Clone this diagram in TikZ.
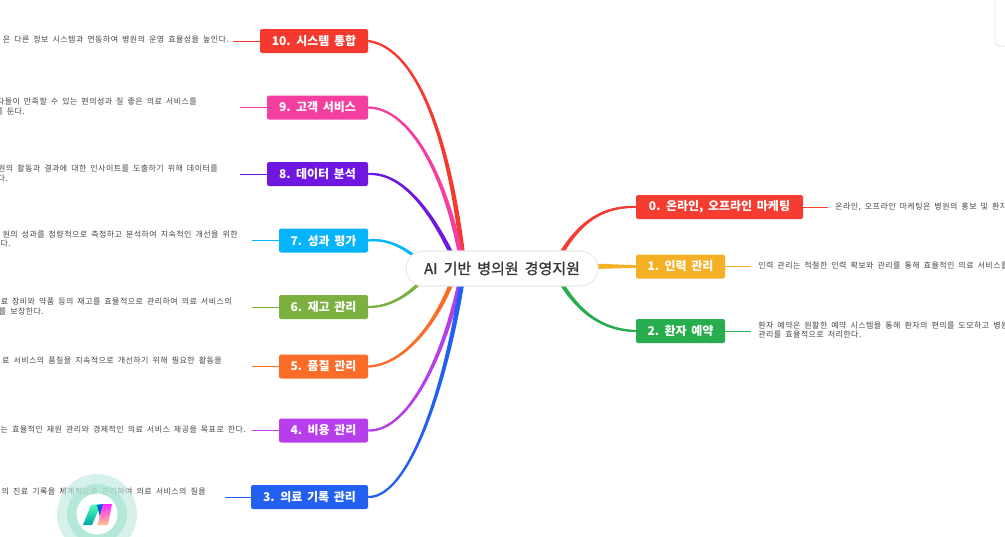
\documentclass[tikz,border=0pt]{standalone}
\usepackage{fontspec}
\setmainfont{Noto Sans CJK KR}
\newfontfamily\krleaf{Noto Sans CJK KR}[WordSpace=1.8,LetterSpace=5.5]
\newfontfamily\krbox{Noto Sans CJK KR}[WordSpace=1.7]
\newfontfamily\krroot{Noto Sans CJK KR}[WordSpace=1.8,FakeBold=1.2]
\usetikzlibrary{calc,backgrounds}
\definecolor{c0}{HTML}{F43D30}
\definecolor{c1}{HTML}{F6B026}
\definecolor{c2}{HTML}{27AC4E}
\definecolor{c3}{HTML}{2160F0}
\definecolor{c4}{HTML}{B63FEB}
\definecolor{c5}{HTML}{FB6C28}
\definecolor{c6}{HTML}{7CB040}
\definecolor{c7}{HTML}{06B4FB}
\definecolor{c8}{HTML}{6F17E0}
\definecolor{c9}{HTML}{F53FA0}
\definecolor{c10}{HTML}{F5392E}
\definecolor{ringa}{HTML}{BBE9DE}
\definecolor{ringb}{HTML}{A1E3CF}
\tikzset{
  x=0.75pt,y=-0.75pt,
  topicbox/.style={fill=#1,rounded corners=1.6pt,inner sep=0pt,minimum height=18pt,text=white,font=\krbox\fontsize{9}{10}\bfseries\selectfont},
  rootbox/.style={fill=white,draw=black!8,line width=0.9pt,rounded corners=13pt,inner sep=0pt,minimum width=144pt,minimum height=26.2pt,text=black!78,font=\krroot\fontsize{11.25}{13}\selectfont},
  leaftext/.style={inner sep=0pt,text=black!72,text height=5pt,text depth=1pt,font=\krleaf\fontsize{6}{7}\selectfont},
  leafline/.style={line width=0.75pt,draw=#1},
}
% curve from a topic node to a point behind the centre, widening towards the centre
% #1 colour, #2 start, #3 #4 controls, #5 end, #6 side for x, #7 side for y
\newcommand{\taperbranch}[7]{%
  \draw[#1,line width=1.4pt] (#2) .. controls (#3) and (#4) .. (#5);
  \fill[#1] ($(#2)+(0,#7*1)$) .. controls ($(#3)+(#6*0.7,#7*1.3)$) and ($(#4)+(#6*1.9,#7*0.6)$) .. ($(#5)+(#6*2.6,0)$)
    -- ($(#5)+(-#6*2.6,0)$) .. controls ($(#4)+(-#6*1.9,-#7*0.6)$) and ($(#3)+(-#6*0.7,-#7*1.3)$) .. ($(#2)+(0,-#7*1)$) -- cycle;
}
\begin{document}
\begin{tikzpicture}
\useasboundingbox (0,0) rectangle (1005,536);
\clip (0,0) rectangle (1005,536);

% central and topic nodes
\node[rootbox] (root) at (502,268.5) {AI 기반 병의원 경영지원};
\node[topicbox=c10,minimum width=81pt] (b10) at (314,41) {10. 시스템 통합};
\node[topicbox=c9,minimum width=75.75pt] (b9) at (317.5,107.5) {9. 고객 서비스};
\node[topicbox=c8,minimum width=75.75pt] (b8) at (317.5,174) {8. 데이터 분석};
\node[topicbox=c7,minimum width=66.75pt] (b7) at (323.5,240.5) {7. 성과 평가};
\node[topicbox=c6,minimum width=66.75pt] (b6) at (323.5,307) {6. 재고 관리};
\node[topicbox=c5,minimum width=66.75pt] (b5) at (323.5,366.5) {5. 품질 관리};
\node[topicbox=c4,minimum width=66.75pt] (b4) at (323.5,430.5) {4. 비용 관리};
\node[topicbox=c3,minimum width=87.75pt] (b3) at (309.5,497) {3. 의료 기록 관리};
\node[topicbox=c0,minimum width=125.25pt] (b0) at (719.5,207) {0. 온라인, 오프라인 마케팅};
\node[topicbox=c1,minimum width=66.75pt] (b1) at (680.5,266.5) {1. 인력 관리};
\node[topicbox=c2,minimum width=66.75pt] (b2) at (680.5,331) {2. 환자 예약};

% anchor points hidden behind the central node
\coordinate (e10) at (464,268);
\coordinate (e9) at (463,268);
\coordinate (e8) at (458,268);
\coordinate (e7) at (430,270);
\coordinate (e6) at (432,270);
\coordinate (e5) at (457,268);
\coordinate (e4) at (463,268);
\coordinate (e3) at (464,268);
\coordinate (e0) at (555,265);
\coordinate (e2) at (555,272);

\begin{scope}[on background layer]
\fill[white] (0,0) rectangle (1005,536);
\draw[draw=black!7,fill=white,rounded corners=3pt,line width=0.75pt] (995,-12) rectangle (1020,46);
\taperbranch{c10}{b10.east}{420,48}{452,150}{e10}{1}{-1}
\taperbranch{c9}{b9.east}{410,108}{447,175}{e9}{1}{-1}
\taperbranch{c8}{b8.east}{405,172}{436,218}{e8}{1}{-1}
\taperbranch{c7}{b7.east}{390,238}{410,250}{e7}{1}{-1}
\taperbranch{c6}{b6.east}{388,307}{408,298}{e6}{1}{1}
\taperbranch{c5}{b5.east}{405,365}{440,320}{e5}{1}{1}
\taperbranch{c4}{b4.east}{410,432}{447,350}{e4}{1}{1}
\taperbranch{c3}{b3.east}{412,498}{450,370}{e3}{1}{1}
\taperbranch{c0}{b0.west}{600,206}{575,225}{e0}{-1}{-1}
\taperbranch{c2}{b2.west}{600,330}{575,310}{e2}{-1}{1}
\draw[c1,line width=1.5pt] (b1.west) -- (root.east |- b1.west);
\fill[c1] (595,263.6) -- (636,265.2) -- (636,267.8) -- (595,269) -- cycle;
\end{scope}

% leaf texts
\node[leaftext,anchor=east] (t10) at (229,40) {은 다른 정보 시스템과 연동하여 병원의 운영 효율성을 높인다.};
\node[leaftext,anchor=east] (t9a) at (197,102) {자들이 만족할 수 있는 편의성과 질 좋은 의료 서비스를};
\node[leaftext,anchor=east] (t9b) at (25,112) {를 둔다.};
\node[leaftext,anchor=east] (t8a) at (218,169) {원의 활동과 결과에 대한 인사이트를 도출하기 위해 데이터를};
\node[leaftext,anchor=east] (t8b) at (8,178.5) {다.};
\node[leaftext,anchor=east] (t7a) at (238,234.5) {원의 성과를 정량적으로 측정하고 분석하여 지속적인 개선을 위한};
\node[leaftext,anchor=east] (t7b) at (11,244) {다.};
\node[leaftext,anchor=east] (t6a) at (232,301.5) {료 장비와 약품 등의 재고를 효율적으로 관리하여 의료 서비스의};
\node[leaftext,anchor=east] (t6b) at (44,312) {를 보장한다.};
\node[leaftext,anchor=east] (t5) at (222,361) {료 서비스의 품질을 지속적으로 개선하기 위해 필요한 활동을};
\node[leaftext,anchor=east] (t4) at (246,430) {는 효율적인 재원 관리와 경제적인 의료 서비스 제공을 목표로 한다.};
\node[leaftext,anchor=east] (t3) at (206,492) {의 진료 기록을 체계적으로 관리하여 의료 서비스의 질을};
\node[leaftext,anchor=west] (t0) at (835,207) {온라인, 오프라인 마케팅은 병원의 홍보 및 환자};
\node[leaftext,anchor=west] (t1) at (758,266) {인력 관리는 적절한 인력 확보와 관리를 통해 효율적인 의료 서비스를};
\node[leaftext,anchor=west] (t2a) at (758,326) {환자 예약은 원활한 예약 시스템을 통해 환자의 편의를 도모하고 병원};
\node[leaftext,anchor=west] (t2b) at (758,335) {관리를 효율적으로 처리한다.};

% leaf connectors
\coordinate (l10) at (233,41);
\coordinate (l9) at (240,107.5);
\coordinate (l8) at (240,174);
\coordinate (l7) at (252,240.5);
\coordinate (l6) at (252,307);
\coordinate (l5) at (252,366.5);
\coordinate (l4) at (252,430.5);
\coordinate (l3) at (225,497);
\coordinate (l0) at (828,207);
\coordinate (l1) at (751,266.5);
\coordinate (l2) at (751,331);
\draw[leafline=c10] (b10.west) -- (l10);
\draw[leafline=c9] (b9.west) -- (l9);
\draw[leafline=c8] (b8.west) -- (l8);
\draw[leafline=c7] (b7.west) -- (l7);
\draw[leafline=c6] (b6.west) -- (l6);
\draw[leafline=c5] (b5.west) -- (l5);
\draw[leafline=c4] (b4.west) -- (l4);
\draw[leafline=c3] (b3.west) -- (l3);
\draw[leafline=c0] (b0.east) -- (l0);
\draw[leafline=c1] (b1.east) -- (l1);
\draw[leafline=c2] (b2.east) -- (l2);

% logo
\fill[ringa,opacity=0.6] (97,514) circle[radius=40];
\fill[ringb,opacity=0.6] (97,514) circle[radius=30];
\fill[white] (97,514) circle[radius=20.5];
\shade[bottom color=teal!70!cyan,top color=cyan!60!green!70!white] (83,525) -- (92,525) -- (101,504) -- (91,505) -- cycle;
\fill[blue!55!cyan!85!black] (97,505) -- (103,504) -- (100.5,519) -- cycle;
\shade[bottom color=orange!45!white,top color=magenta!85!white] (97.5,525) -- (108,525) -- (112,504) -- (103,504) -- cycle;
\end{tikzpicture}
\end{document}
